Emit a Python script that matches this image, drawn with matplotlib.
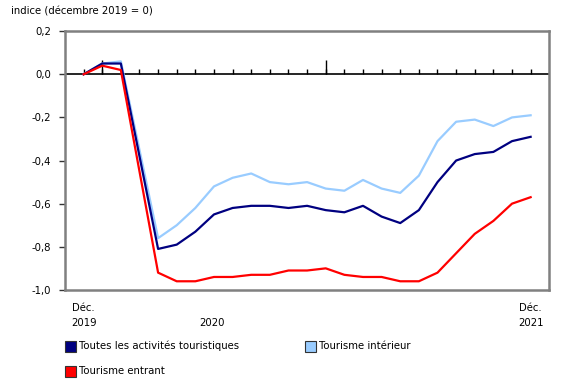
import numpy as np
import matplotlib.pyplot as plt
from matplotlib.patches import Rectangle

# monthly index, Dec 2019 .. Dec 2021
months = list(range(25))

toutes = [0.0, 0.05, 0.05, -0.38, -0.81, -0.79, -0.73, -0.65, -0.62, -0.61, -0.61, -0.62, -0.61,
          -0.63, -0.64, -0.61, -0.66, -0.69, -0.63, -0.50, -0.40, -0.37, -0.36, -0.31, -0.29]
interieur = [0.0, 0.05, 0.06, -0.35, -0.76, -0.70, -0.62, -0.52, -0.48, -0.46, -0.50, -0.51, -0.50,
             -0.53, -0.54, -0.49, -0.53, -0.55, -0.47, -0.31, -0.22, -0.21, -0.24, -0.20, -0.19]
entrant = [0.0, 0.04, 0.02, -0.45, -0.92, -0.96, -0.96, -0.94, -0.94, -0.93, -0.93, -0.91, -0.91,
           -0.90, -0.93, -0.94, -0.94, -0.96, -0.96, -0.92, -0.83, -0.74, -0.68, -0.60, -0.57]

labels = ["Toutes les activités touristiques", "Tourisme intérieur", "Tourisme entrant"]
colors = ["#000080", "#99ccff", "#ff0000"]

yticks = [-1.0, -0.8, -0.6, -0.4, -0.2, 0.0, 0.2]
year_starts = [1, 13]

plt.rcParams['font.family'] = ['DejaVu Sans']
fs = 7.3

fig = plt.figure(figsize=(5.8, 3.85), dpi=100)
ax = fig.add_axes([0.112, 0.247, 0.835, 0.672])

ax.plot(months, interieur, color=colors[1], lw=1.6, zorder=3)
ax.plot(months, toutes, color=colors[0], lw=1.6, zorder=4)
ax.plot(months, entrant, color=colors[2], lw=1.6, zorder=5)

# zero line with monthly ticks
ax.axhline(0, color="black", lw=1.2, zorder=2)
ax.vlines(months, 0, 0.024, color="black", lw=1, zorder=2)
ax.vlines(year_starts, 0, 0.068, color="black", lw=1, zorder=2)

ax.set_xlim(-1, 25)
ax.set_ylim(-1.0, 0.2)
ax.set_yticks(yticks)
ax.set_yticklabels([f"{v:.1f}".replace(".", ",") for v in yticks], fontsize=fs)
ax.tick_params(axis="y", length=4, width=1, color="#333333", pad=6)
ax.set_xticks([])
for s in ax.spines.values():
    s.set_color("#808080")
    s.set_linewidth(1.8)

# x labels (two rows)
for x, top, bottom in [(0, "Déc.", "2019"), (6.9, "", "2020"), (24, "Déc.", "2021")]:
    ax.text(x, -1.083, top, ha="center", va="center", fontsize=fs)
    ax.text(x, -1.153, bottom, ha="center", va="center", fontsize=fs)

fig.text(11 / 580, 1 - 12 / 385, "indice (décembre 2019 = 0)", ha="left", va="center", fontsize=fs)

# legend
W, H = 580, 385
legend_pos = [(65, 346), (305, 346), (65, 371)]
for (x, y), lab, c in zip(legend_pos, labels, colors):
    fig.patches.append(Rectangle((x / W, 1 - (y + 5.5) / H), 11 / W, 11 / H,
                                 transform=fig.transFigure, facecolor=c,
                                 edgecolor="#333333", lw=0.8))
    fig.text((x + 14) / W, 1 - y / H, lab, ha="left", va="center", fontsize=fs)

fig.savefig("out.png", dpi=100)
